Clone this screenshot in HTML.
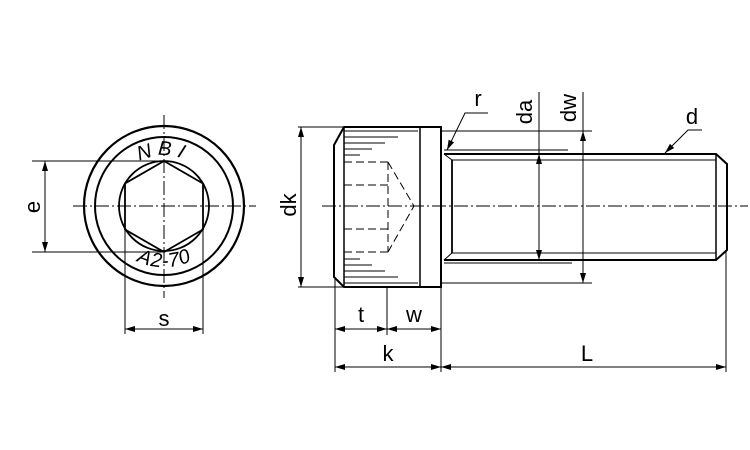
<!DOCTYPE html>
<html><head><style>html,body{margin:0;padding:0;background:#fff}svg{display:block}</style></head><body>
<svg width="750" height="450" viewBox="0 0 750 450" xmlns="http://www.w3.org/2000/svg" font-family="Liberation Sans, sans-serif">
<defs>
<marker id="a" viewBox="0 0 10 6" refX="10" refY="3" markerWidth="10" markerHeight="6" orient="auto-start-reverse" markerUnits="userSpaceOnUse"><path d="M0,0L10,3L0,6z" fill="#000"/></marker>
<path id="tp" d="M 108,206 A 56,56 0 0 1 220,206"/>
<path id="bp" d="M 108,206 A 56,56 0 0 0 220,206"/>
</defs>
<g fill="none" stroke="#000">
<circle cx="164" cy="206" r="80" stroke-width="2.2"/>
<circle cx="164" cy="206" r="69" stroke-width="2"/>
<circle cx="164" cy="206" r="45" stroke-width="1.8"/>
<polygon points="164,161 203,183.5 203,229.5 164,252 125,229.5 125,183.5" stroke-width="1.8"/>
<g stroke-width="1" stroke-dasharray="14,3,2,3">
<line x1="73" y1="206" x2="256" y2="206"/>
<line x1="164" y1="115" x2="164" y2="298"/>
<line x1="322" y1="206" x2="748" y2="206"/>
</g>
<g stroke-width="1">
<line x1="32" y1="161" x2="164" y2="161"/>
<line x1="32" y1="252" x2="164" y2="252"/>
<line x1="45" y1="161" x2="45" y2="252" marker-start="url(#a)" marker-end="url(#a)"/>
<line x1="125" y1="230" x2="125" y2="334"/>
<line x1="203" y1="230" x2="203" y2="334"/>
<line x1="125" y1="329" x2="203" y2="329" marker-start="url(#a)" marker-end="url(#a)"/>
</g>
<path d="M344,127 H441 V287 H344 L334,277 V145 Z" stroke-width="2"/>
<line x1="344" y1="127" x2="344" y2="287" stroke-width="1.5"/>
<line x1="420" y1="127" x2="420" y2="287" stroke-width="1.5"/>
<g stroke-width="1">
<line x1="344" y1="131" x2="418" y2="131"/>
<line x1="344" y1="137" x2="398" y2="137"/>
<line x1="344" y1="143" x2="385" y2="143"/>
<line x1="344" y1="149" x2="372" y2="149"/>
<line x1="344" y1="155" x2="360" y2="155"/>
<line x1="344" y1="283" x2="418" y2="283"/>
<line x1="344" y1="277" x2="398" y2="277"/>
<line x1="344" y1="271" x2="385" y2="271"/>
<line x1="344" y1="265" x2="372" y2="265"/>
<line x1="344" y1="259" x2="360" y2="259"/>
</g>
<g stroke-width="1" stroke-dasharray="8,4">
<line x1="344" y1="162" x2="388" y2="162"/>
<line x1="344" y1="185" x2="388" y2="185"/>
<line x1="344" y1="229" x2="388" y2="229"/>
<line x1="344" y1="252" x2="388" y2="252"/>
<line x1="388" y1="162" x2="388" y2="252"/>
<polyline points="388,162 414,206 388,252"/>
</g>
<path d="M444,154 H716 L727,164 V250 L716,260 H444" stroke-width="2"/>
<line x1="716" y1="154" x2="716" y2="260" stroke-width="1.5"/>
<line x1="452" y1="160" x2="716" y2="160" stroke-width="1"/>
<line x1="452" y1="253" x2="716" y2="253" stroke-width="1"/>
<line x1="452" y1="160" x2="452" y2="253" stroke-width="1.8"/>
<line x1="444" y1="154" x2="452" y2="160" stroke-width="1"/>
<line x1="444" y1="260" x2="452" y2="253" stroke-width="1"/>
<g stroke-width="1">
<line x1="298" y1="127" x2="344" y2="127"/>
<line x1="298" y1="287" x2="344" y2="287"/>
<line x1="301" y1="127" x2="301" y2="287" marker-start="url(#a)" marker-end="url(#a)"/>
<line x1="442" y1="131" x2="592" y2="131"/>
<line x1="442" y1="283" x2="592" y2="283"/>
<line x1="583" y1="92" x2="583" y2="131"/>
<line x1="583" y1="131" x2="583" y2="283" marker-start="url(#a)" marker-end="url(#a)"/>
<line x1="444" y1="150" x2="568" y2="150"/>
<line x1="444" y1="263" x2="572" y2="263"/>
<line x1="539" y1="92" x2="539" y2="154"/>
<line x1="539" y1="154" x2="539" y2="260" marker-start="url(#a)" marker-end="url(#a)"/>
<polyline points="488,113 465,113 447,150" marker-end="url(#a)"/>
<polyline points="702,130 688,130 665,153" marker-end="url(#a)"/>
<line x1="335" y1="278" x2="335" y2="372"/>
<line x1="387" y1="287" x2="387" y2="335"/>
<line x1="441" y1="287" x2="441" y2="372"/>
<line x1="726" y1="250" x2="726" y2="372"/>
<line x1="335" y1="329" x2="387" y2="329" marker-start="url(#a)" marker-end="url(#a)"/>
<line x1="387" y1="329" x2="441" y2="329" marker-start="url(#a)" marker-end="url(#a)"/>
<line x1="335" y1="367" x2="441" y2="367" marker-start="url(#a)" marker-end="url(#a)"/>
<line x1="441" y1="367" x2="726" y2="367" marker-start="url(#a)" marker-end="url(#a)"/>
</g>
</g>
<g font-size="22" fill="#000">
<text x="164" y="326" text-anchor="middle">s</text>
<text transform="translate(40,207) rotate(-90)" text-anchor="middle">e</text>
<text transform="translate(296,205) rotate(-90)" text-anchor="middle">dk</text>
<text transform="translate(532,112) rotate(-90)" text-anchor="middle">da</text>
<text transform="translate(576,108) rotate(-90)" text-anchor="middle">dw</text>
<text x="478" y="106" text-anchor="middle">r</text>
<text x="692" y="124" text-anchor="middle">d</text>
<text x="361" y="322" text-anchor="middle">t</text>
<text x="414" y="322" text-anchor="middle">w</text>
<text x="388" y="361" text-anchor="middle">k</text>
<text x="587" y="361" text-anchor="middle">L</text>
</g>
<g font-size="20" fill="#000" font-style="italic">
<text letter-spacing="7"><textPath href="#tp" startOffset="50%" text-anchor="middle" dominant-baseline="middle">NBI</textPath></text>
<text><textPath href="#bp" startOffset="50%" text-anchor="middle" dominant-baseline="middle">A2-70</textPath></text>
</g>
</svg>
</body></html>
